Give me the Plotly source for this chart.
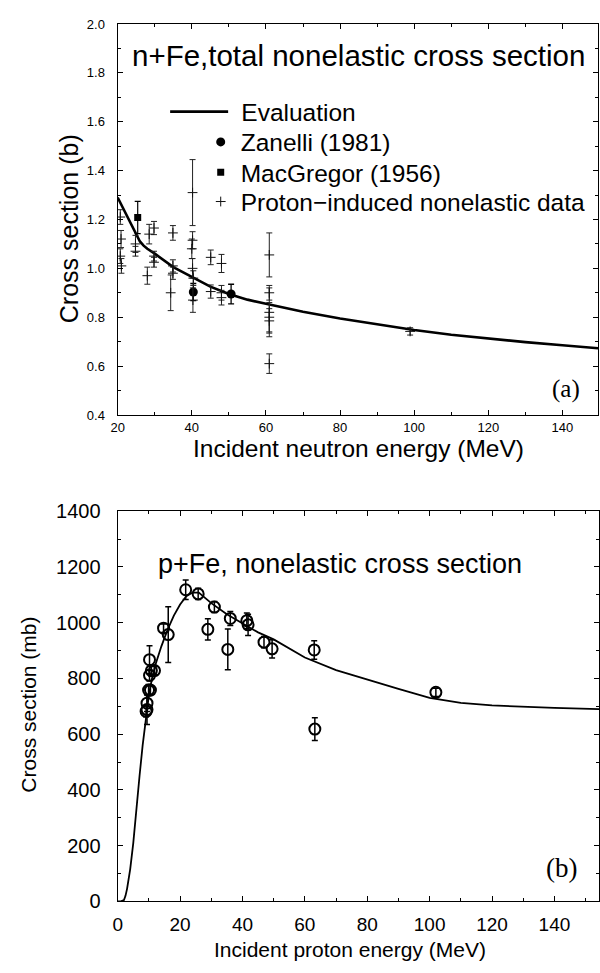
import plotly.graph_objects as go

# ---------------- Panel (a): n+Fe total nonelastic (b) ----------------
eval_a_E = [20, 22, 24, 26, 27, 28, 30, 35, 40, 45, 50, 55, 60, 70, 80, 90, 100, 110, 120, 130, 140, 149.6]
eval_a_s = [1.29, 1.23, 1.17, 1.11, 1.093, 1.08, 1.06, 1.005, 0.965, 0.925, 0.895, 0.872, 0.855,
            0.822, 0.795, 0.77, 0.748, 0.728, 0.712, 0.698, 0.685, 0.673]

zan_E = [40.4, 50.6]
zan_s = [0.903, 0.895]
zan_err = [0.035, 0.04]

mac_E = [25.4]
mac_s = [1.208]
mac_err = [0.066]

prot_E = [20.7, 20.9, 20.7, 21.0, 24.8, 24.8, 28.0, 28.5, 29.8, 29.8, 29.8, 34.9, 34.3, 34.9, 34.9,
          40.2, 40.2, 40.0, 40.2, 40.4, 40.3, 45.1, 45.1, 48.0, 48.0, 48.0,
          60.9, 60.9, 60.9, 60.9, 60.9, 60.9, 98.9]
prot_s = [1.21, 1.12, 1.05, 1.01, 1.10, 1.07, 0.97, 1.14, 1.165, 1.05, 1.025, 1.145, 0.90, 1.01, 0.98,
          1.31, 1.115, 1.08, 1.00, 0.96, 0.87, 1.045, 0.905, 1.02, 0.90, 0.88,
          1.055, 0.90, 0.82, 0.80, 0.785, 0.61, 0.742]
prot_err = [0.03, 0.035, 0.03, 0.03, 0.035, 0.02, 0.035, 0.04, 0.027, 0.02, 0.02, 0.03, 0.073, 0.025, 0.025,
            0.135, 0.035, 0.04, 0.04, 0.03, 0.05, 0.03, 0.027, 0.037, 0.03, 0.03,
            0.09, 0.03, 0.1, 0.06, 0.05, 0.04, 0.015]

a_xticks = [20, 40, 60, 80, 100, 120, 140]
a_yticks = [0.4, 0.6, 0.8, 1.0, 1.2, 1.4, 1.6, 1.8, 2.0]

# ---------------- Panel (b): p+Fe nonelastic (mb) ----------------
eval_b_E = [0, 1, 2, 2.5, 3, 3.5, 4, 5, 6, 7, 8, 9, 10, 11, 12, 14, 16, 18, 20, 22, 24, 26, 28, 30,
            35, 40, 45, 50, 60, 70, 80, 90, 100, 110, 120, 130, 140, 154.3]
eval_b_s = [0, 0, 5, 20, 45, 80, 115, 210, 340, 450, 560, 660, 740, 800, 845, 915, 975, 1025, 1065,
            1095, 1108, 1108, 1090, 1070, 1030, 997, 965, 940, 875, 830, 795, 762, 730, 712, 703, 698, 694, 690]

pfe_E = [21.8, 25.8, 31.0, 36.1, 41.4, 41.8, 28.9, 35.3, 14.7, 16.2, 10.2, 10.2, 10.8, 11.8, 9.9, 10.5,
         9.4, 9.4, 9.1, 46.9, 49.5, 63.0, 63.2, 102.0]
pfe_s = [1118, 1103, 1056, 1015, 1007, 992, 976, 904, 980, 957, 867, 811, 828, 828, 758, 758,
         711, 688, 682, 930, 906, 902, 618, 750]
pfe_err = [35, 20, 20, 25, 28, 38, 38, 73, 15, 100, 50, 20, 20, 15, 20, 15,
           30, 53, 20, 20, 33, 33, 41, 15]

b_xticks = [0, 20, 40, 60, 80, 100, 120, 140]
b_yticks = [0, 200, 400, 600, 800, 1000, 1200, 1400]

W, H = 600, 973
SANS = "Liberation Sans, Arial, sans-serif"
SERIF = "Liberation Serif, Times New Roman, serif"

def px(x):
    return x / W

def py(y):
    return 1 - y / H

fig = go.Figure()

fig.add_trace(go.Scatter(x=eval_a_E, y=eval_a_s, mode="lines", name="\u2004Evaluation", legend="legend",
                         line=dict(color="black", width=2.6), xaxis="x", yaxis="y"))
fig.add_trace(go.Scatter(x=zan_E, y=zan_s, mode="markers", name="Zanelli (1981)", legend="legend2",
                         marker=dict(symbol="circle", size=9, color="black"),
                         error_y=dict(type="data", array=zan_err, color="black", thickness=1.3, width=3),
                         xaxis="x", yaxis="y"))
fig.add_trace(go.Scatter(x=mac_E, y=mac_s, mode="markers", name="MacGregor (1956)", legend="legend3",
                         marker=dict(symbol="square", size=7, color="black"),
                         error_y=dict(type="data", array=mac_err, color="black", thickness=1.2, width=3),
                         xaxis="x", yaxis="y"))
fig.add_trace(go.Scatter(x=prot_E, y=prot_s, mode="markers", name="Proton\u2212induced nonelastic data",
                         legend="legend4",
                         marker=dict(symbol="cross-thin", size=7, color="black",
                                     line=dict(color="#111", width=1)),
                         error_y=dict(type="data", array=prot_err, color="#222", thickness=1, width=3),
                         xaxis="x", yaxis="y"))

fig.add_trace(go.Scatter(x=eval_b_E, y=eval_b_s, mode="lines", showlegend=False,
                         line=dict(color="black", width=1.8), xaxis="x2", yaxis="y2"))
fig.add_trace(go.Scatter(x=pfe_E, y=pfe_s, mode="markers", showlegend=False,
                         marker=dict(symbol="circle-open", size=11, color="black", line=dict(width=2)),
                         error_y=dict(type="data", array=pfe_err, color="black", thickness=1.5, width=3),
                         xaxis="x2", yaxis="y2"))

axis_common = dict(showline=True, linecolor="black", linewidth=1.3, mirror="ticks",
                   ticks="inside", ticklen=5, tickwidth=1.2, tickcolor="black",
                   showgrid=False, zeroline=False)

leg_font = dict(size=24.5, family=SANS, color="black")
leg_common = dict(xanchor="left", yanchor="middle", bgcolor="rgba(0,0,0,0)", borderwidth=0,
                  font=leg_font)

fig.update_layout(
    width=W, height=H,
    margin=dict(l=0, r=0, t=0, b=0),
    paper_bgcolor="white", plot_bgcolor="white",
    font=dict(family=SANS, color="black"),
    xaxis=dict(domain=[px(112), px(598)], range=[20, 149.6], anchor="y",
               tickvals=a_xticks, ticktext=[str(v) for v in a_xticks],
               tickfont=dict(size=13), ticklabelstandoff=0,
               minor=dict(dtick=10, tick0=0, ticks="inside", ticklen=3, tickcolor="black"),
               **axis_common),
    yaxis=dict(domain=[py(413.3), py(13.3)], range=[0.4, 2.0], anchor="x",
               tickvals=a_yticks, ticktext=["%.1f" % v for v in a_yticks],
               tickfont=dict(size=13), ticklabelstandoff=9,
               minor=dict(dtick=0.1, tick0=0, ticks="inside", ticklen=3, tickcolor="black"),
               **axis_common),
    xaxis2=dict(domain=[px(112), px(599)], range=[0, 154.3], anchor="y2",
                tickvals=b_xticks, ticktext=[str(v) for v in b_xticks],
                tickfont=dict(size=19), ticklabelstandoff=6,
                minor=dict(dtick=10, tick0=0, ticks="inside", ticklen=3, tickcolor="black"),
                **axis_common),
    yaxis2=dict(domain=[py(911), py(511.7)], range=[0, 1400], anchor="x2",
                tickvals=b_yticks, ticktext=[str(v) for v in b_yticks],
                tickfont=dict(size=20), ticklabelstandoff=12,
                minor=dict(dtick=100, tick0=0, ticks="inside", ticklen=3, tickcolor="black"),
                **axis_common),
    legend=dict(x=px(160), y=py(103), itemwidth=58, **leg_common),
    legend2=dict(x=px(196), y=py(134), **leg_common),
    legend3=dict(x=px(196), y=py(165), **leg_common),
    legend4=dict(x=px(196), y=py(195), **leg_common),
    showlegend=True,
)

annos = [
    dict(text="n+Fe,total nonelastic cross section", x=px(356), y=py(46), size=29.5, fam=SANS, ang=0),
    dict(text="Incident neutron energy (MeV)", x=px(356), y=py(448), size=24.5, fam=SANS, ang=0),
    dict(text="Cross section (b)", x=px(63), y=py(223), size=25, fam=SANS, ang=-90),
    dict(text="(a)", x=px(566), y=py(387), size=25, fam=SERIF, ang=0),
    dict(text="p+Fe, nonelastic cross section", x=px(337), y=py(566), size=27, fam=SANS, ang=0),
    dict(text="Incident proton energy (MeV)", x=px(347), y=py(960), size=21, fam=SANS, ang=0),
    dict(text="Cross section (mb)", x=px(22), y=py(710), size=21, fam=SANS, ang=-90),
    dict(text="(b)", x=px(561), y=py(877), size=27, fam=SERIF, ang=0),
]
for a in annos:
    fig.add_annotation(text=a["text"], x=a["x"], y=a["y"], xref="paper", yref="paper",
                       xanchor="center", yanchor="middle", showarrow=False, textangle=a["ang"],
                       font=dict(size=a["size"], family=a["fam"], color="black"))

fig.write_html("out.html")
